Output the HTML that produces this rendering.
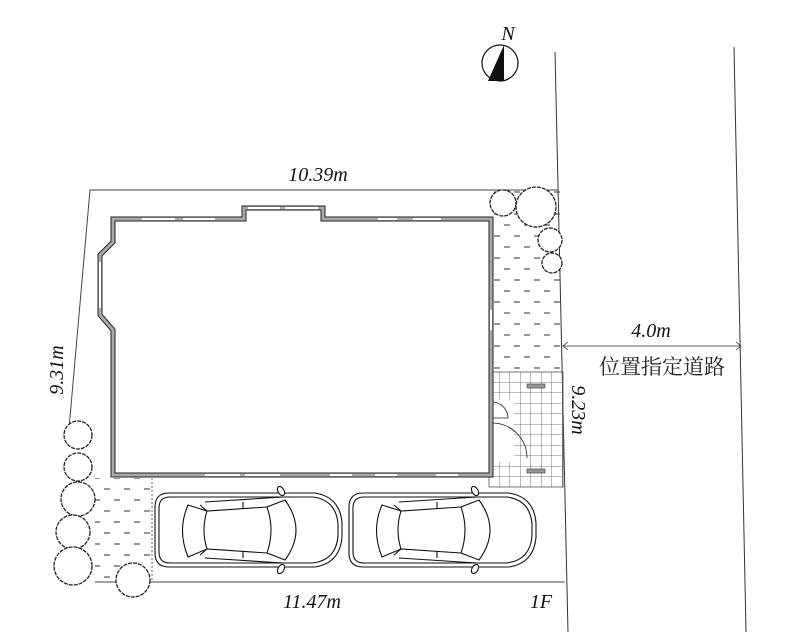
<!DOCTYPE html>
<html><head><meta charset="utf-8"><style>
html,body{margin:0;padding:0;background:#fff;width:800px;height:632px;overflow:hidden}
svg{display:block}
.t{font-family:"Liberation Serif",serif;font-style:italic;font-size:20px;fill:#111}
</style></head><body>
<svg width="800" height="632" viewBox="0 0 800 632" xmlns="http://www.w3.org/2000/svg">
<defs>
<pattern id="hatch" x="0" y="0" width="20" height="22" patternUnits="userSpaceOnUse">
<line x1="4" y1="5" x2="10" y2="5" stroke="#444" stroke-width="1.1"/>
<line x1="14" y1="16" x2="20" y2="16" stroke="#444" stroke-width="1.1"/>
</pattern>
<pattern id="grid" x="489" y="372" width="10.5" height="10.5" patternUnits="userSpaceOnUse">
<path d="M10.5 0V10.5H0" fill="none" stroke="#555" stroke-width="0.8"/>
</pattern>
<g id="car" fill="none" stroke="#111" stroke-width="1.1">
<path d="M14 0 H160 Q185 4 187 30 V44 Q185 70 160 74 H14 Q0 74 0 60 V14 Q0 0 14 0Z"/>
<path d="M15 4 H158 Q181 7 183 31 V43 Q181 67 158 70 H15 Q4 70 4 59 V15 Q4 4 15 4Z"/>
<path d="M33 12 Q22 37 33 64 L52 56 Q46 37 52 18 Z"/>
<path d="M112 14 Q120 37 112 60 L130 67 Q152 37 130 7 Z"/>
<path d="M45 12 L52 18 L112 14 M45 62 L52 56 L112 60"/>
<path d="M50 9 L128 4 M50 65 L128 70"/>
<path d="M88 9 V16 M88 58 V65"/>
<ellipse cx="126" cy="-2" rx="3" ry="5" transform="rotate(-30 126 -2)" fill="#fff"/>
<ellipse cx="126" cy="76" rx="3" ry="5" transform="rotate(30 126 76)" fill="#fff"/>
</g>
</defs>

<line x1="555" y1="52" x2="568" y2="632" stroke="#333" stroke-width="1"/>
<line x1="734" y1="47" x2="746" y2="632" stroke="#333" stroke-width="1"/>

<polyline points="558,190 90,190 68,440" fill="none" stroke="#444" stroke-width="1"/>
<line x1="95" y1="582" x2="565" y2="582" stroke="#444" stroke-width="1"/>

<rect x="492" y="190" width="69" height="182" fill="url(#hatch)"/>
<rect x="95" y="478" width="57" height="104" fill="url(#hatch)"/>
<line x1="152" y1="478" x2="152" y2="582" stroke="#666" stroke-dasharray="2,2"/>
<rect x="489" y="372" width="74" height="115" fill="url(#grid)" stroke="#555" stroke-width="0.8"/>
<rect x="527" y="384" width="18" height="4" fill="#999" stroke="#333" stroke-width="0.6"/>
<rect x="527" y="469" width="18" height="4" fill="#999" stroke="#333" stroke-width="0.6"/>
<rect x="490" y="400" width="24" height="62" fill="#fff"/>
<path d="M492 402 A16 16 0 0 1 508 418 L492 418" fill="none" stroke="#222" stroke-width="0.8"/>
<path d="M492 423 A35 35 0 0 1 527 458" fill="none" stroke="#222" stroke-width="0.8"/>

<path d="M113 219 H244 V208 H323 V219 H491 V475 H113 V330 L100 315 V255 L113 242 Z" fill="#fff" stroke="#222" stroke-width="5"/>
<path d="M113 219 H244 V208 H323 V219 H491 V475 H113 V330 L100 315 V255 L113 242 Z" fill="none" stroke="#aaa" stroke-width="3"/>
<g stroke="#fff" stroke-width="2">
<line x1="142" y1="219" x2="175" y2="219"/><line x1="183" y1="219" x2="215" y2="219"/>
<line x1="248" y1="208" x2="280" y2="208"/><line x1="285" y1="208" x2="318" y2="208"/>
<line x1="378" y1="219" x2="397" y2="219"/><line x1="413" y1="219" x2="441" y2="219"/>
<line x1="205" y1="475" x2="240" y2="475"/><line x1="245" y1="475" x2="280" y2="475"/>
<line x1="330" y1="475" x2="352" y2="475"/><line x1="375" y1="475" x2="397" y2="475"/><line x1="436" y1="475" x2="458" y2="475"/>
<line x1="100" y1="262" x2="100" y2="308"/><line x1="491" y1="310" x2="491" y2="330"/>
</g>

<use href="#car" x="155" y="493"/>
<use href="#car" x="349" y="493"/>

<g fill="#fff" stroke="#222" stroke-width="1.3" stroke-dasharray="4,1">
<circle cx="503" cy="203" r="13"/>
<circle cx="536" cy="207" r="20"/>
<circle cx="550" cy="240" r="12"/>
<circle cx="552" cy="263" r="10"/>
<circle cx="78" cy="435" r="14"/>
<circle cx="78" cy="467" r="14"/>
<circle cx="78" cy="499" r="17"/>
<circle cx="73" cy="532" r="17"/>
<circle cx="73" cy="566" r="19"/>
<circle cx="133" cy="580" r="17"/>
</g>

<circle cx="500" cy="63" r="18" fill="#fff" stroke="#111" stroke-width="1.2"/>
<path d="M504 45 L504 81 L488 81 Z" fill="#111"/>
<text x="508" y="40" class="t" font-size="16" text-anchor="middle">N</text>

<text x="318" y="181" class="t" text-anchor="middle">10.39m</text>
<text class="t" text-anchor="middle" transform="translate(63,370) rotate(-90)">9.31m</text>
<text x="312" y="608" class="t" text-anchor="middle">11.47m</text>
<text x="541" y="608" class="t" text-anchor="middle">1F</text>
<text class="t" text-anchor="middle" transform="translate(572,410) rotate(90)">9.23m</text>
<text x="651" y="337" class="t" text-anchor="middle">4.0m</text>
<line x1="563" y1="346" x2="741" y2="346" stroke="#333" stroke-width="0.8"/>
<path d="M568 342 L563 346 L568 350 M736 342 L741 346 L736 350" fill="none" stroke="#333" stroke-width="0.8"/>
<text x="662" y="374" font-family="'Liberation Serif','Noto Serif CJK SC',serif" font-size="21" fill="#222" text-anchor="middle">位置指定道路</text>
</svg>
</body></html>
